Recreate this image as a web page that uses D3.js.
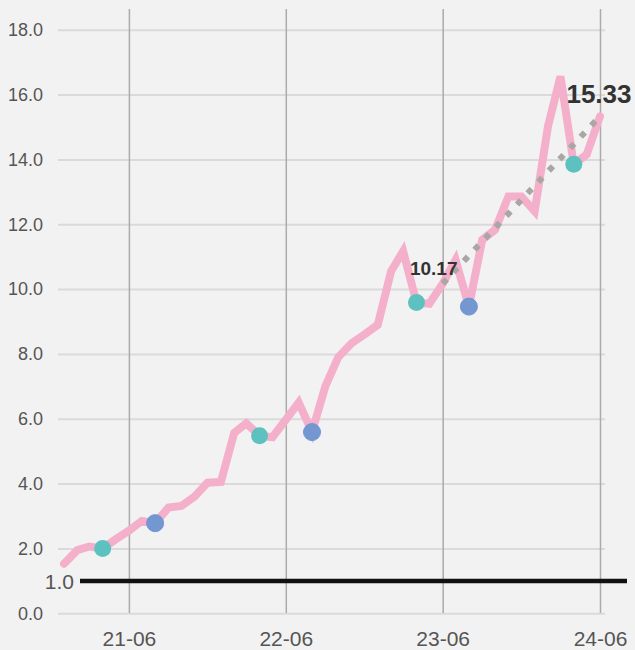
<!DOCTYPE html>
<html>
<head>
<meta charset="utf-8">
<script src="https://cdn.jsdelivr.net/npm/d3@7"></script>
<style>
  html, body { margin: 0; padding: 0; background: #f2f2f2; }
  svg { display: block; font-family: "Liberation Sans", Arial, sans-serif; }
</style>
</head>
<body>
<svg id="chart"></svg>
<script>
var months = ["2021-01", "2021-02", "2021-03", "2021-04", "2021-05", "2021-06", "2021-07",
  "2021-08", "2021-09", "2021-10", "2021-11", "2021-12", "2022-01", "2022-02", "2022-03",
  "2022-04", "2022-05", "2022-06", "2022-07", "2022-08", "2022-09", "2022-10", "2022-11",
  "2022-12", "2023-01", "2023-02", "2023-03", "2023-04", "2023-05", "2023-06", "2023-07",
  "2023-08", "2023-09", "2023-10", "2023-11", "2023-12", "2024-01", "2024-02", "2024-03",
  "2024-04", "2024-05", "2024-06"];
var values = [1.53, 1.95, 2.06, 2.0, 2.28, 2.55, 2.85, 2.78, 3.26, 3.31, 3.6, 4.03, 4.05,
  5.57, 5.86, 5.48, 5.43, 5.97, 6.5, 5.59, 7.0, 7.9, 8.33, 8.6, 8.9, 10.55, 11.17, 9.59,
  9.55, 10.17, 10.9, 9.46, 11.52, 11.83, 12.86, 12.86, 12.4, 15.02, 16.56, 13.85, 14.15, 15.33];
var tealMonths = ["2021-04", "2022-04", "2023-04", "2024-04"];
var blueMonths = ["2021-08", "2022-08", "2023-08"];
var trendMonths = ["2023-06", "2024-06"];
var tickMonths = ["2021-06", "2022-06", "2023-06", "2024-06"];
var yTicks = [0, 2, 4, 6, 8, 10, 12, 14, 16, 18];
var baseline = 1.0;

(function () {
  var width = 635, height = 650;
  var parse = d3.timeParse("%Y-%m");
  var fmt = d3.timeFormat("%y-%m");

  var data = months.map(function (m, i) { return {date: parse(m), value: values[i]}; });
  var byMonth = {};
  data.forEach(function (d, i) { byMonth[months[i]] = d; });

  var svg = d3.select("#chart").attr("width", width).attr("height", height);

  var x = d3.scaleTime()
      .domain([parse("2021-01"), parse("2024-06")])
      .range([64, 600]);
  var y = d3.scaleLinear().domain([0, 18.64]).range([613.3, 9]);

  // horizontal grid + y labels
  svg.append("g")
    .attr("class", "axis axis--y")
    .attr("transform", "translate(58,0)")
    .call(d3.axisLeft(y).tickValues(yTicks).tickFormat(d3.format(".1f"))
      .tickSize(-547).tickPadding(15))
    .call(function (g) {
      g.select(".domain").remove();
      g.selectAll(".tick line").attr("stroke", "#dadada").attr("stroke-width", 2);
      g.selectAll(".tick text").attr("fill", "#555").style("font-size", "18px")
        .attr("font-family", null);
    });

  // vertical grid + x labels
  svg.append("g")
    .attr("class", "axis axis--x")
    .attr("transform", "translate(0,613)")
    .call(d3.axisBottom(x).tickValues(tickMonths.map(parse)).tickFormat(fmt)
      .tickSize(-604).tickPadding(18))
    .call(function (g) {
      g.select(".domain").remove();
      g.selectAll(".tick line").attr("stroke", "#ababab").attr("stroke-width", 1.5);
      g.selectAll(".tick text").attr("fill", "#555").style("font-size", "21px")
        .attr("font-family", null);
    });

  // reference line
  svg.append("line")
    .attr("x1", 80).attr("x2", 627)
    .attr("y1", y(baseline)).attr("y2", y(baseline))
    .attr("stroke", "#111").attr("stroke-width", 4.5);
  svg.append("text")
    .attr("x", 74).attr("y", y(baseline))
    .attr("dy", "0.38em")
    .attr("text-anchor", "end")
    .attr("fill", "#555")
    .style("font-size", "21px")
    .text(d3.format(".1f")(baseline));

  var line = d3.line()
      .x(function (d) { return x(d.date); })
      .y(function (d) { return y(d.value); });

  svg.append("path")
    .datum(data)
    .attr("d", line)
    .attr("fill", "none")
    .attr("stroke", "#f4b0cb")
    .attr("stroke-width", 8)
    .attr("stroke-linejoin", "miter")
    .attr("stroke-linecap", "round");

  var trend = trendMonths.map(function (m) { return byMonth[m]; });
  svg.append("path")
    .datum(trend)
    .attr("d", line)
    .attr("fill", "none")
    .attr("stroke", "#aaa6a3")
    .attr("stroke-width", 6)
    .attr("stroke-dasharray", "6,9.5");

  svg.selectAll(".teal")
    .data(tealMonths.map(function (m) { return byMonth[m]; }))
    .enter().append("circle")
    .attr("class", "teal")
    .attr("cx", function (d) { return x(d.date); })
    .attr("cy", function (d) { return y(d.value); })
    .attr("r", 8.5)
    .attr("fill", "#5dc1bf");

  svg.selectAll(".blue")
    .data(blueMonths.map(function (m) { return byMonth[m]; }))
    .enter().append("circle")
    .attr("class", "blue")
    .attr("cx", function (d) { return x(d.date); })
    .attr("cy", function (d) { return y(d.value); })
    .attr("r", 8.5)
    .attr("fill", "#7597cf")
    .attr("stroke", "#6b95d8")
    .attr("stroke-width", 1);

  // labels at the trend ends
  svg.append("text")
    .attr("x", x(trend[0].date) - 9).attr("y", y(trend[0].value) - 9)
    .attr("text-anchor", "middle")
    .attr("fill", "#333")
    .style("font-size", "19px").style("font-weight", "bold")
    .text(d3.format(".2f")(trend[0].value));
  svg.append("text")
    .attr("x", x(trend[1].date) - 1).attr("y", y(trend[1].value) - 13)
    .attr("text-anchor", "middle")
    .attr("fill", "#333")
    .style("font-size", "26px").style("font-weight", "bold")
    .text(d3.format(".2f")(trend[1].value));
})();
</script>
</body>
</html>
